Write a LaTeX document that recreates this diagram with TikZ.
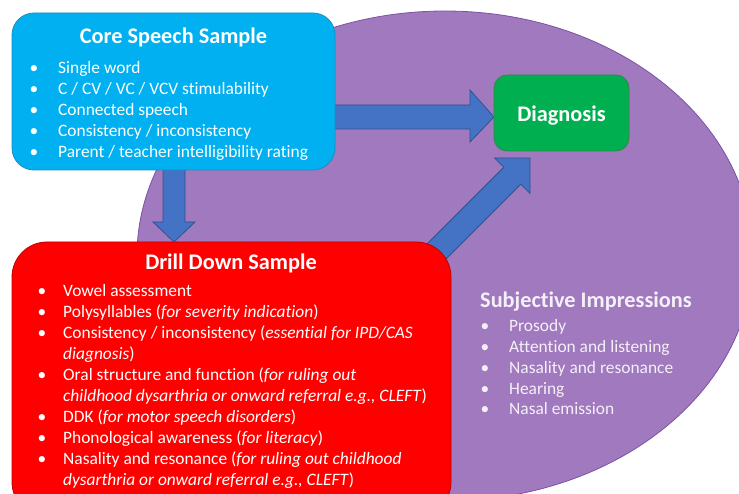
\documentclass[tikz,border=0pt]{standalone}
\usepackage{fontspec}
\setmainfont{Carlito}[Ligatures={NoCommon}]
\usetikzlibrary{calc,shapes.geometric}
\definecolor{purp}{HTML}{A179BE}
\definecolor{purpline}{HTML}{7A52A6}
\definecolor{coreblue}{HTML}{00B0F0}
\definecolor{corebord}{HTML}{1A8FC4}
\definecolor{drillred}{HTML}{FF0000}
\definecolor{drillbord}{HTML}{C00000}
\definecolor{diaggreen}{HTML}{00B050}
\definecolor{diagbord}{HTML}{3F7F4F}
\definecolor{arrblue}{HTML}{4472C4}
\definecolor{arrbord}{HTML}{2F528F}
\definecolor{subjtext}{HTML}{F4F0F8}
\newcommand{\itmA}[1]{\makebox[28.5pt][l]{•}#1}
\newcommand{\itmB}[1]{\makebox[25.5pt][l]{•}#1}
\tikzset{
  boxbase/.style={rectangle, draw, line width=0.8pt, inner sep=0pt},
  corebox/.style={boxbase, fill=coreblue, draw=corebord, rounded corners=22pt},
  drillbox/.style={boxbase, fill=drillred, draw=drillbord, rounded corners=35pt},
  diagbox/.style={boxbase, fill=diaggreen, draw=diagbord, rounded corners=13pt},
  blockarrow/.style={fill=arrblue, draw=arrbord, line width=0.8pt, line join=miter},
  titletext/.style={text=white, font=\fontsize{22.3}{26}\selectfont\bfseries, inner sep=0pt},
  listtext/.style={text=white, font=\fontsize{17.4}{21}\selectfont, inner sep=0pt, align=left},
}
\begin{document}
\begin{tikzpicture}[x=1pt,y=-1pt]
\useasboundingbox (0,0) rectangle (739,494);
\clip (0,0) rectangle (739,494);
% purple ellipse
\node[ellipse, draw=purpline, fill=purp, line width=0.8pt, minimum width=616pt, minimum height=490pt, inner sep=0pt] (subj) at (445,256) {};
% arrows (drawn under the boxes)
% right arrow core -> diagnosis
\coordinate (r1) at (330,105); \coordinate (r2) at (470,105); \coordinate (r3) at (470,90);
\coordinate (rt) at (494,117);
\coordinate (r4) at (470,142); \coordinate (r5) at (470,129); \coordinate (r6) at (330,129);
\draw[blockarrow] (r1) -- (r2) -- (r3) -- (rt) -- (r4) -- (r5) -- (r6) -- cycle;
% down arrow core -> drill
\coordinate (d1) at (163,165); \coordinate (d2) at (163,222); \coordinate (d3) at (153,222);
\coordinate (dt) at (174,242);
\coordinate (d4) at (195,222); \coordinate (d5) at (185,222); \coordinate (d6) at (185,165);
\draw[blockarrow] (d1) -- (d2) -- (d3) -- (dt) -- (d4) -- (d5) -- (d6) -- cycle;
% diagonal arrow drill -> diagnosis
\coordinate (g1) at (401.5,269.5); \coordinate (g2) at (503.8,167.2); \coordinate (g3) at (494.6,158);
\coordinate (gt) at (530,158);
\coordinate (g4) at (530,193.4); \coordinate (g5) at (520.8,184.2); \coordinate (g6) at (418.5,286.5);
\draw[blockarrow] (g1) -- (g2) -- (g3) -- (gt) -- (g4) -- (g5) -- (g6) -- cycle;
% boxes
\node[corebox, minimum width=323pt, minimum height=157pt] (core) at (173.5,91.5) {};
\node[drillbox, minimum width=439pt, minimum height=275pt] (drill) at (231.5,379.5) {};
\node[diagbox, minimum width=135pt, minimum height=76pt] (diag) at (561.5,113) {};
% texts
\node[titletext, anchor=base] (coretitle) at (173.5,44) {Core Speech Sample};
\node[listtext, anchor=base west] (corelist) at (29.5,74) {\begin{tabular}[t]{@{}l@{}}
\itmA{Single word}\\
\itmA{C / CV / VC / VCV stimulability}\\
\itmA{Connected speech}\\
\itmA{Consistency / inconsistency}\\
\itmA{Parent / teacher intelligibility rating}
\end{tabular}};
\node[titletext, anchor=base] (drilltitle) at (231,270) {Drill Down Sample};
\node[listtext, anchor=base west] (drilllist) at (37.5,297) {\begin{tabular}[t]{@{}l@{}}
\itmB{Vowel assessment}\\
\itmB{Polysyllables (\textit{for severity indication})}\\
\itmB{Consistency / inconsistency (\textit{essential for IPD/CAS}}\\
\hspace*{25.5pt}\textit{diagnosis})\\
\itmB{Oral structure and function (\textit{for ruling out}}\\
\hspace*{25.5pt}\textit{childhood dysarthria or onward referral e.g., CLEFT})\\
\itmB{DDK (\textit{for motor speech disorders})}\\
\itmB{Phonological awareness (\textit{for literacy})}\\
\itmB{Nasality and resonance (\textit{for ruling out childhood}}\\
\hspace*{25.5pt}\textit{dysarthria or onward referral e.g., CLEFT})
\end{tabular}};
\node[titletext, anchor=base] (diagtitle) at (561.5,122) {Diagnosis};
\node[titletext, anchor=base west, text=subjtext] (subjtitle) at (480,308) {Subjective Impressions};
\node[listtext, anchor=base west, text=subjtext] (subjlist) at (480.5,331) {\begin{tabular}[t]{@{}l@{}}
\itmA{Prosody}\\
\itmA{Attention and listening}\\
\itmA{Nasality and resonance}\\
\itmA{Hearing}\\
\itmA{Nasal emission}
\end{tabular}};
\end{tikzpicture}
\end{document}
